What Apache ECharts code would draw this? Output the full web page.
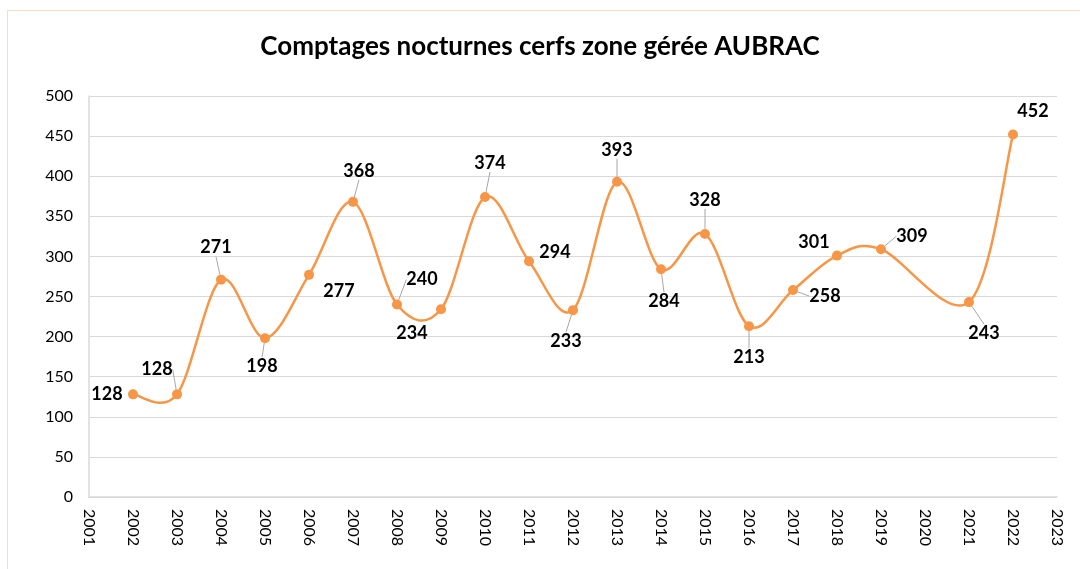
<!DOCTYPE html>
<html style="height: 100%">
<head>
<meta charset="utf-8">
<script type="text/javascript" src="https://cdn.jsdelivr.net/npm/echarts@6/dist/echarts.min.js"></script>
</head>
<body style="height: 100%; margin: 0; background: #fff">
<div style="position: absolute; left: 7px; top: 10px; width: 1200px; height: 700px; border: 1px solid #f9dcc6; box-sizing: border-box"></div>
<div id="container" style="position: absolute; left: 0; top: 0; width: 1080px; height: 569px"></div>
<script type="text/javascript">
// comptages par annee (pas de comptage en 2020)
var YEARS = [2002, 2003, 2004, 2005, 2006, 2007, 2008, 2009, 2010, 2011, 2012,
             2013, 2014, 2015, 2016, 2017, 2018, 2019, 2021, 2022];
var COUNTS = [128, 128, 271, 198, 277, 368, 240, 234, 374, 294, 233,
              393, 284, 328, 213, 258, 301, 309, 243, 452];
var Y_TICKS = [0, 50, 100, 150, 200, 250, 300, 350, 400, 450, 500];

// decalage des etiquettes (px) et trait de rappel ou pas
var LABEL_DX = [-26, -20, -5, -3, 30, 6, 25, -29, 5, 26, -7, 0, 3, 0, 0, 32, -23, 31, 15, 20];
var LABEL_DY = [0, -25, -32, 28, 16, -31, -25, 24, -34, -9, 31, -32, 32, -34, 31, 6, -13, -13, 31, -23];
var LABEL_LINE = [false, true, true, true, false, true, true, false, true, false, true,
                  true, true, true, true, true, false, true, true, false];

var FONT = 'Lato, "Open Sans", sans-serif';
var ORANGE = '#f79646';

var data = [];
for (var i = 0; i < YEARS.length; i++) {
    data.push({
        value: [YEARS[i], COUNTS[i]],
        labelLine: {show: LABEL_LINE[i]}
    });
}

// courbe lissee facon Excel : un segment de Bezier par intervalle
function renderSegment(params, api) {
    var i = params.dataIndex;
    var n = YEARS.length;
    if (i >= n - 1) return null;
    function pt(k) {
        k = Math.max(0, Math.min(n - 1, k));
        return api.coord([YEARS[k], COUNTS[k]]);
    }
    var p0 = pt(i - 1), p1 = pt(i), p2 = pt(i + 1), p3 = pt(i + 2);
    return {
        type: 'bezierCurve',
        shape: {
            x1: p1[0], y1: p1[1],
            cpx1: p1[0] + (p2[0] - p0[0]) / 6, cpy1: p1[1] + (p2[1] - p0[1]) / 6,
            cpx2: p2[0] - (p3[0] - p1[0]) / 6, cpy2: p2[1] - (p3[1] - p1[1]) / 6,
            x2: p2[0], y2: p2[1]
        },
        style: {stroke: ORANGE, lineWidth: 2.5, fill: null}
    };
}

var dom = document.getElementById("container");
var myChart = echarts.init(dom);
var option = {
    animation: false,
    title: {
        text: 'Comptages nocturnes cerfs zone gérée AUBRAC',
        left: 'center',
        top: 29,
        textStyle: {
            fontFamily: FONT,
            fontSize: 26,
            fontWeight: 'bold',
            color: '#000'
        }
    },
    grid: {
        left: 89,
        right: 23,
        top: 96,
        bottom: 72
    },
    xAxis: {
        type: 'value',
        min: 2001,
        max: 2023,
        interval: 1,
        axisLine: {show: true, lineStyle: {color: '#d9d9d9', width: 1.5}},
        axisTick: {show: false},
        splitLine: {show: false},
        axisLabel: {
            rotate: -90,
            margin: 12,
            formatter: function (v) { return String(v); },
            fontFamily: FONT,
            fontSize: 16,
            color: '#000'
        }
    },
    yAxis: {
        type: 'value',
        min: Y_TICKS[0],
        max: Y_TICKS[Y_TICKS.length - 1],
        interval: Y_TICKS[1] - Y_TICKS[0],
        axisLine: {show: true, lineStyle: {color: '#d9d9d9', width: 1.5}},
        axisTick: {show: false},
        splitLine: {lineStyle: {color: '#d9d9d9', width: 1.2}},
        axisLabel: {
            margin: 16,
            fontFamily: FONT,
            fontSize: 16,
            color: '#000'
        }
    },
    series: [{
        type: 'custom',
        renderItem: renderSegment,
        data: data.map(function (d) { return d.value; }),
        silent: true,
        z: 2
    }, {
        type: 'line',
        symbol: 'circle',
        symbolSize: 10,
        lineStyle: {opacity: 0},
        itemStyle: {color: ORANGE},
        z: 3,
        label: {
            show: true,
            position: 'inside',
            align: 'center',
            verticalAlign: 'middle',
            formatter: function (p) { return p.value[1]; },
            fontFamily: FONT,
            fontSize: 18,
            fontWeight: 'bold',
            color: '#000'
        },
        labelLine: {
            show: true,
            lineStyle: {color: '#a6a6a6', width: 1}
        },
        labelLayout: function (params) {
            return {dx: LABEL_DX[params.dataIndex], dy: LABEL_DY[params.dataIndex]};
        },
        data: data
    }]
};
myChart.setOption(option, true);
</script>
</body>
</html>
